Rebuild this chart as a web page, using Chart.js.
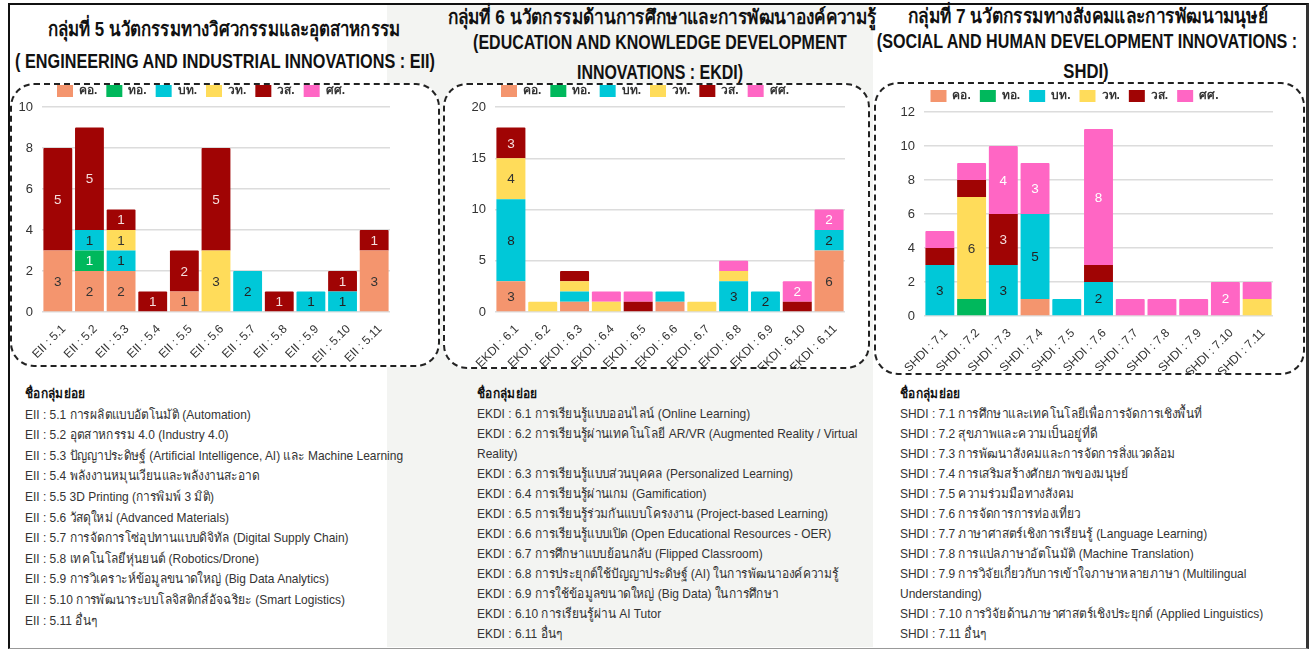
<!DOCTYPE html>
<html>
<head>
<meta charset="utf-8">
<script src="https://cdn.jsdelivr.net/npm/chart.js@4.4.1/dist/chart.umd.min.js"></script>
<style>
  body { margin: 0; width: 1313px; height: 652px; background: #fff; position: relative; overflow: hidden; font-family: "Liberation Sans", sans-serif; }
  .frame { position: absolute; left: 8px; top: 3px; width: 1296px; height: 643px; border-top: 2px solid #111; border-left: 2px solid #111; border-right: 3px solid #333; border-bottom: 1px solid #999; }
  .grey { position: absolute; left: 387px; top: 5px; width: 486px; height: 642px; background: #f3f4f2; }
  .tl { position: absolute; white-space: nowrap; font-weight: bold; font-size: 20px; color: #111; transform: translate(-50%, -50%); }
  .box { position: absolute; box-sizing: border-box; border: 2px dashed #222; border-radius: 24px; background: #fff; }
  .box canvas { position: absolute; left: 0; }
  .list { position: absolute; white-space: nowrap; font-size: 13px; line-height: 20.6px; color: #333; transform: scaleX(0.92); transform-origin: left top; }
  .list b { color: #111; }
</style>
</head>
<body>
<div class="grey"></div>
<div class="frame"></div>

<div class="tl" data-w="352" style="left:224px;top:29px">กลุ่มที่ 5 นวัตกรรมทางวิศวกรรมและอุตสาหกรรม</div>
<div class="tl" data-w="420" style="left:225px;top:61px">( ENGINEERING AND INDUSTRIAL INNOVATIONS : EII)</div>
<div class="tl" data-w="429" style="left:662px;top:17px">กลุ่มที่ 6 นวัตกรรมด้านการศึกษาและการพัฒนาองค์ความรู้</div>
<div class="tl" data-w="374" style="left:660px;top:42px">(EDUCATION AND KNOWLEDGE DEVELOPMENT</div>
<div class="tl" data-w="166" style="left:660px;top:72px">INNOVATIONS : EKDI)</div>
<div class="tl" data-w="360" style="left:1088px;top:16px">กลุ่มที่ 7 นวัตกรรมทางสังคมและการพัฒนามนุษย์</div>
<div class="tl" data-w="420" style="left:1087px;top:41px">(SOCIAL AND HUMAN DEVELOPMENT INNOVATIONS :</div>
<div class="tl" data-w="45" style="left:1086px;top:71px">SHDI)</div>

<div class="box" style="left:10px;top:83px;width:430px;height:284px"><canvas id="c1" style="top:-9px"></canvas></div>
<div class="box" style="left:443px;top:83px;width:427px;height:286px"><canvas id="c2" style="top:-9px"></canvas></div>
<div class="box" style="left:874px;top:82px;width:431px;height:293px"><canvas id="c3" style="top:-3px"></canvas></div>

<div class="list" style="left:25px;top:384px">
<b>ชื่อกลุ่มย่อย</b><br>
EII : 5.1 การผลิตแบบอัตโนมัติ (Automation)<br>
EII : 5.2 อุตสาหกรรม 4.0 (Industry 4.0)<br>
EII : 5.3 ปัญญาประดิษฐ์ (Artificial Intelligence, AI) และ Machine Learning<br>
EII : 5.4 พลังงานหมุนเวียนและพลังงานสะอาด<br>
EII : 5.5 3D Printing (การพิมพ์ 3 มิติ)<br>
EII : 5.6 วัสดุใหม่ (Advanced Materials)<br>
EII : 5.7 การจัดการโซ่อุปทานแบบดิจิทัล (Digital Supply Chain)<br>
EII : 5.8 เทคโนโลยีหุ่นยนต์ (Robotics/Drone)<br>
EII : 5.9 การวิเคราะห์ข้อมูลขนาดใหญ่ (Big Data Analytics)<br>
EII : 5.10 การพัฒนาระบบโลจิสติกส์อัจฉริยะ (Smart Logistics)<br>
EII : 5.11 อื่นๆ
</div>
<div class="list" style="left:477px;top:384px;line-height:20px">
<b>ชื่อกลุ่มย่อย</b><br>
EKDI : 6.1 การเรียนรู้แบบออนไลน์ (Online Learning)<br>
EKDI : 6.2 การเรียนรู้ผ่านเทคโนโลยี AR/VR (Augmented Reality / Virtual<br>
Reality)<br>
EKDI : 6.3 การเรียนรู้แบบส่วนบุคคล (Personalized Learning)<br>
EKDI : 6.4 การเรียนรู้ผ่านเกม (Gamification)<br>
EKDI : 6.5 การเรียนรู้ร่วมกันแบบโครงงาน (Project-based Learning)<br>
EKDI : 6.6 การเรียนรู้แบบเปิด (Open Educational Resources - OER)<br>
EKDI : 6.7 การศึกษาแบบย้อนกลับ (Flipped Classroom)<br>
EKDI : 6.8 การประยุกต์ใช้ปัญญาประดิษฐ์ (AI) ในการพัฒนาองค์ความรู้<br>
EKDI : 6.9 การใช้ข้อมูลขนาดใหญ่ (Big Data) ในการศึกษา<br>
EKDI : 6.10 การเรียนรู้ผ่าน AI Tutor<br>
EKDI : 6.11 อื่นๆ
</div>
<div class="list" style="left:900px;top:384px;line-height:20px">
<b>ชื่อกลุ่มย่อย</b><br>
SHDI : 7.1 การศึกษาและเทคโนโลยีเพื่อการจัดการเชิงพื้นที่<br>
SHDI : 7.2 สุขภาพและความเป็นอยู่ที่ดี<br>
SHDI : 7.3 การพัฒนาสังคมและการจัดการสิ่งแวดล้อม<br>
SHDI : 7.4 การเสริมสร้างศักยภาพของมนุษย์<br>
SHDI : 7.5 ความร่วมมือทางสังคม<br>
SHDI : 7.6 การจัดการการท่องเที่ยว<br>
SHDI : 7.7 ภาษาศาสตร์เชิงการเรียนรู้ (Language Learning)<br>
SHDI : 7.8 การแปลภาษาอัตโนมัติ (Machine Translation)<br>
SHDI : 7.9 การวิจัยเกี่ยวกับการเข้าใจภาษาหลายภาษา (Multilingual<br>
Understanding)<br>
SHDI : 7.10 การวิจัยด้านภาษาศาสตร์เชิงประยุกต์ (Applied Linguistics)<br>
SHDI : 7.11 อื่นๆ
</div>

<script>
const seriesNames = ['คอ.', 'ทอ.', 'บท.', 'วท.', 'วส.', 'ศศ.'];
const seriesColors = ['#f4956e', '#00b85c', '#00c8d8', '#ffdc5a', '#a00404', '#ff66c4'];
const labelColors = ['#333', '#fff', '#222', '#333', '#f4dede', '#fff'];

const eiiLabels = ['EII : 5.1', 'EII : 5.2', 'EII : 5.3', 'EII : 5.4', 'EII : 5.5', 'EII : 5.6', 'EII : 5.7', 'EII : 5.8', 'EII : 5.9', 'EII : 5.10', 'EII : 5.11'];
const eiiKo = [3, 2, 2, 0, 1, 0, 0, 0, 0, 0, 3];
const eiiTo = [0, 1, 0, 0, 0, 0, 0, 0, 0, 0, 0];
const eiiBt = [0, 1, 1, 0, 0, 0, 2, 0, 1, 1, 0];
const eiiWt = [0, 0, 1, 0, 0, 3, 0, 0, 0, 0, 0];
const eiiWs = [5, 5, 1, 1, 2, 5, 0, 1, 0, 1, 1];
const eiiSs = [0, 0, 0, 0, 0, 0, 0, 0, 0, 0, 0];

const ekdiLabels = ['EKDI : 6.1', 'EKDI : 6.2', 'EKDI : 6.3', 'EKDI : 6.4', 'EKDI : 6.5', 'EKDI : 6.6', 'EKDI : 6.7', 'EKDI : 6.8', 'EKDI : 6.9', 'EKDI : 6.10', 'EKDI : 6.11'];
const ekdiKo = [3, 0, 1, 0, 0, 1, 0, 0, 0, 0, 6];
const ekdiTo = [0, 0, 0, 0, 0, 0, 0, 0, 0, 0, 0];
const ekdiBt = [8, 0, 1, 0, 0, 1, 0, 3, 2, 0, 2];
const ekdiWt = [4, 1, 1, 1, 0, 0, 1, 1, 0, 0, 0];
const ekdiWs = [3, 0, 1, 0, 1, 0, 0, 0, 0, 1, 0];
const ekdiSs = [0, 0, 0, 1, 1, 0, 0, 1, 0, 2, 2];

const shdiLabels = ['SHDI : 7.1', 'SHDI : 7.2', 'SHDI : 7.3', 'SHDI : 7.4', 'SHDI : 7.5', 'SHDI : 7.6', 'SHDI : 7.7', 'SHDI : 7.8', 'SHDI : 7.9', 'SHDI : 7.10', 'SHDI : 7.11'];
const shdiKo = [0, 0, 0, 1, 0, 0, 0, 0, 0, 0, 0];
const shdiTo = [0, 1, 0, 0, 0, 0, 0, 0, 0, 0, 0];
const shdiBt = [3, 0, 3, 5, 1, 2, 0, 0, 0, 0, 0];
const shdiWt = [0, 6, 0, 0, 0, 0, 0, 0, 0, 0, 1];
const shdiWs = [1, 1, 3, 0, 0, 1, 0, 0, 0, 0, 0];
const shdiSs = [1, 1, 4, 3, 0, 8, 1, 1, 1, 2, 1];

// squeeze the bold titles to the width they have in the picture
document.querySelectorAll('.tl').forEach(el => {
  const s = +el.dataset.w / el.offsetWidth;
  el.style.transform = 'translate(-50%, -50%) scaleX(' + s.toFixed(3) + ')';
});

// values inside the stacked segments
const segLabels = {
  id: 'segLabels',
  afterDatasetsDraw(chart, args, opts) {
    const ctx = chart.ctx;
    ctx.save();
    ctx.font = '13.5px "Liberation Sans", Arial, sans-serif';
    ctx.textAlign = 'center';
    ctx.textBaseline = 'middle';
    chart.data.datasets.forEach((ds, i) => {
      const meta = chart.getDatasetMeta(i);
      meta.data.forEach((bar, j) => {
        const v = ds.data[j];
        if (!v || v < opts.min) return;
        ctx.fillStyle = labelColors[i];
        ctx.fillText(String(v), bar.x, (bar.y + bar.base) / 2 + 1);
      });
    });
    ctx.restore();
  }
};

function makeChart(id, labels, series, max, step, yWidth, padRight, xHeight, minLabel, w, h) {
  const cv = document.getElementById(id);
  cv.width = w; cv.height = h;
  cv.style.width = w + 'px'; cv.style.height = h + 'px';
  return new Chart(cv, {
    type: 'bar',
    data: {
      labels: labels,
      datasets: series.map((d, i) => ({
        label: seriesNames[i],
        data: d,
        backgroundColor: seriesColors[i],
        borderWidth: 0,
        borderRadius: 1,
        barPercentage: 0.93,
        categoryPercentage: 0.98
      }))
    },
    options: {
      responsive: false,
      animation: false,
      layout: { padding: { left: 0, right: padRight, top: 0, bottom: 0 } },
      plugins: {
        legend: {
          position: 'top',
          labels: {
            boxWidth: 16, boxHeight: 12, padding: 9,
            color: '#333',
            font: { family: '"Liberation Sans", sans-serif', size: 12, weight: 'bold' }
          }
        },
        tooltip: { enabled: false },
        segLabels: { min: minLabel }
      },
      scales: {
        x: {
          stacked: true,
          grid: { display: false },
          border: { display: false },
          ticks: {
            color: '#333', maxRotation: 45, minRotation: 45, padding: 2, labelOffset: 6,
            font: { family: '"Liberation Sans", sans-serif', size: 12 }
          },
          afterFit(axis) { axis.height = xHeight; }
        },
        y: {
          stacked: true,
          min: 0, max: max,
          grid: { color: '#dcdcdc', lineWidth: 1.5, drawTicks: false },
          border: { display: false },
          ticks: {
            stepSize: step, color: '#333', padding: 9,
            font: { family: '"Liberation Sans", sans-serif', size: 13 }
          },
          afterFit(axis) { axis.width = yWidth; }
        }
      }
    },
    plugins: [segLabels]
  });
}

makeChart('c1', eiiLabels, [eiiKo, eiiTo, eiiBt, eiiWt, eiiWs, eiiSs], 10, 2, 30, 48, 53, 1, 426, 289);
makeChart('c2', ekdiLabels, [ekdiKo, ekdiTo, ekdiBt, ekdiWt, ekdiWs, ekdiSs], 20, 5, 50, 23, 57, 2, 423, 293);
makeChart('c3', shdiLabels, [shdiKo, shdiTo, shdiBt, shdiWt, shdiWs, shdiSs], 12, 2, 48, 30, 58, 2, 427, 293);
</script>
</body>
</html>
